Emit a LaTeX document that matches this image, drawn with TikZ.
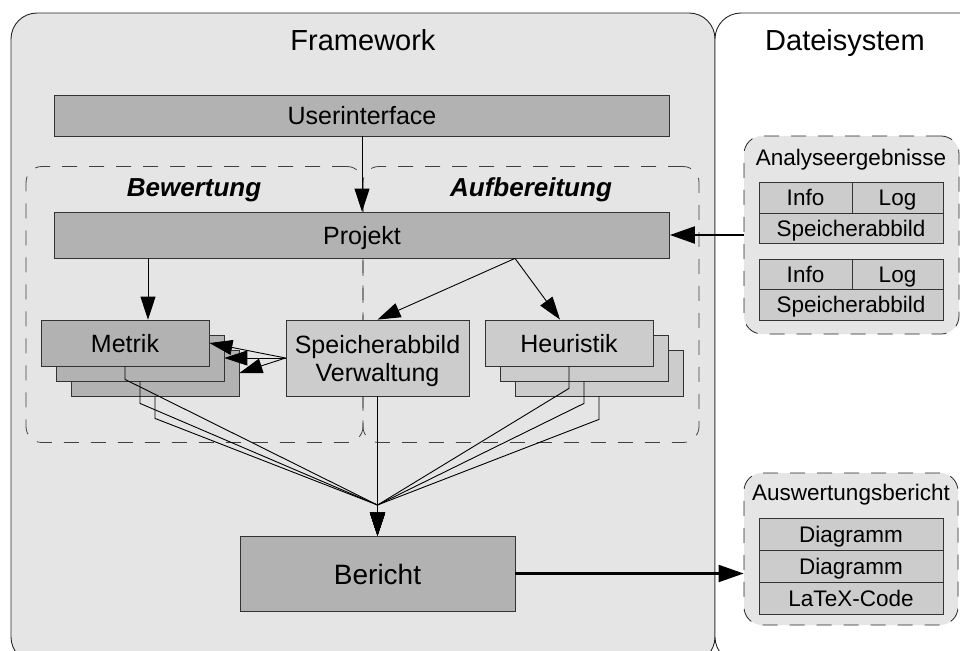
\documentclass[tikz,border=0pt]{standalone}
\usepackage{fontspec}
\setmainfont{Liberation Sans}
\usetikzlibrary{arrows.meta}
\begin{document}
\begin{tikzpicture}[x=1pt,y=-1pt,
  box/.style={draw=black!80, line width=0.8pt, inner sep=0pt, anchor=center, align=center},
  dark/.style={box, fill=black!30},
  light/.style={box, fill=black!20},
  big/.style={font=\fontsize{29}{33}\selectfont, text height=21pt, text depth=0pt},
  txt/.style={font=\fontsize{25}{29}\selectfont, text height=20pt, text depth=2pt},
  small/.style={font=\fontsize{22.5}{26}\selectfont, text height=17pt, text depth=1pt},
  arr/.style={-{Triangle[length=23pt,width=15pt]}, line width=0.9pt},
  bigarr/.style={-{Triangle[length=25pt,width=17pt]}, line width=2.2pt},
  group/.style={draw=black!75, line width=0.8pt, dash pattern=on 15pt off 12pt, rounded corners=16pt},
  store/.style={draw=black!85, line width=0.8pt, dash pattern=on 15pt off 12pt, rounded corners=18pt, fill=black!10, inner sep=0pt},
  part/.style={draw=black!85, line width=0.9pt, rounded corners=26pt, inner sep=0pt}
]
\useasboundingbox (0,0) rectangle (960,650);
\clip (0,0) rectangle (960,650);

% outer areas
\node[part, fill=black!10, minimum width=704pt, minimum height=650pt] (fw) at (363,338) {};
\node[part, fill=white, minimum width=285pt, minimum height=650pt] (ds) at (857.5,338) {};
\node[big] (fwt) at (363,40) {Framework};
\node[big] (dst) at (845,40) {Dateisystem};

% groups inside the framework
\node[group, minimum width=337pt, minimum height=276pt] (bw) at (194.5,304.5) {};
\node[group, minimum width=336pt, minimum height=276pt] (ab) at (531,304.5) {};
\node[txt, font=\fontsize{26}{30}\selectfont\bfseries\itshape] (bwt) at (194,187) {Bewertung};
\node[txt, font=\fontsize{26}{30}\selectfont\bfseries\itshape] (abt) at (531,187) {Aufbereitung};

% framework components
\node[dark, txt, minimum width=615pt, minimum height=41pt] (ui) at (362,115.5) {Userinterface};
\node[dark, txt, minimum width=615pt, minimum height=46pt] (pj) at (362,235) {Projekt};

\node[dark, minimum width=168pt, minimum height=46pt] (m3) at (155,373) {};
\node[dark, minimum width=168pt, minimum height=46pt] (m2) at (140,358) {};
\node[dark, txt, minimum width=168pt, minimum height=46pt] (m1) at (125,343) {Metrik};

\node[light, minimum width=183pt, minimum height=76pt] (sv) at (377.5,358) {};
\node[font=\fontsize{25}{28}\selectfont, align=center] (svt) at (377.5,361) {Speicherabbild\\Verwaltung};

\node[light, minimum width=168pt, minimum height=46pt] (h3) at (599,373) {};
\node[light, minimum width=168pt, minimum height=46pt] (h2) at (584,358) {};
\node[light, txt, minimum width=168pt, minimum height=46pt] (h1) at (569,343) {Heuristik};

\node[dark, big, font=\fontsize{28}{32}\selectfont, minimum width=275pt, minimum height=75pt] (br) at (377.5,573.5) {Bericht};

% file system stores
\node[store, minimum width=215pt, minimum height=198pt] (an) at (851.5,235) {};
\node[small] (ant) at (851,157) {Analyseergebnisse};
\node[light, small, minimum width=93pt, minimum height=31pt] (i1) at (805.5,197.5) {Info};
\node[light, small, minimum width=91pt, minimum height=31pt] (l1) at (897.5,197.5) {Log};
\node[light, small, minimum width=184pt, minimum height=30pt] (s1) at (851,228) {Speicherabbild};
\node[light, small, minimum width=93pt, minimum height=30pt] (i2) at (805.5,274) {Info};
\node[light, small, minimum width=91pt, minimum height=30pt] (l2) at (897.5,274) {Log};
\node[light, small, minimum width=184pt, minimum height=31pt] (s2) at (851,304.5) {Speicherabbild};

\node[store, minimum width=214pt, minimum height=152pt] (aw) at (851,549) {};
\node[small] (awt) at (851,492) {Auswertungsbericht};
\node[light, small, minimum width=184pt, minimum height=32pt] (d1) at (851,534) {Diagramm};
\node[light, small, minimum width=184pt, minimum height=32pt] (d2) at (851,566) {Diagramm};
\node[light, small, minimum width=184pt, minimum height=32pt] (lc) at (851,598) {LaTeX-Code};

% connectors
\coordinate (hub) at (377.5,505);
\draw[arr] (ui.south) -- (pj.north);
\draw[bigarr] (an.west |- pj.east) -- (pj.east);
\draw[arr] (pj.south -| 148,0) -- (m1.north -| 148,0);
\draw[arr] (pj.south -| 515,0) -- (sv.north);
\draw[arr] (pj.south -| 515,0) -- (h1.north -| 560,0);
\draw[arr] (sv.west) -- (m1.east);
\draw[arr] (sv.west) -- (m2.east);
\draw[arr] (sv.west) -- (m3.east);
\draw[arr] (m1.south) -- ++(0,13) -- (hub) -- (br.north);
\draw[arr] (m2.south) -- ++(0,22) -- (hub) -- (br.north);
\draw[arr] (m3.south) -- ++(0,22) -- (hub) -- (br.north);
\draw[arr] (h1.south) -- ++(0,22) -- (hub) -- (br.north);
\draw[arr] (h2.south) -- ++(0,22) -- (hub) -- (br.north);
\draw[arr] (h3.south) -- ++(0,23) -- (hub) -- (br.north);
\draw[arr] (sv.south) -- (br.north);
\draw[bigarr] (br.east) -- (aw.west |- br.east);
\end{tikzpicture}
\end{document}
